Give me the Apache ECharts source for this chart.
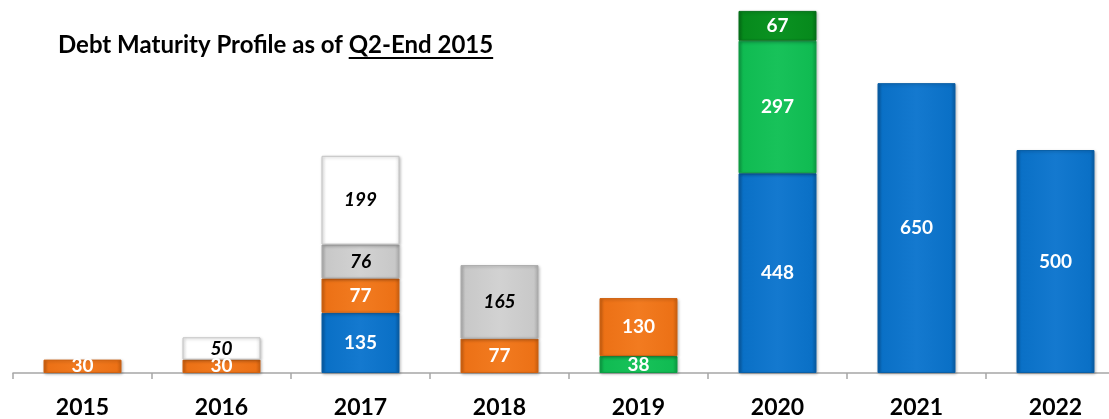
<!DOCTYPE html>
<html>
<head>
<meta charset="utf-8">
<script src="https://cdn.jsdelivr.net/npm/echarts@6/dist/echarts.min.js"></script>
<style>
  html, body { margin: 0; padding: 0; background: #fff; }
  #main { width: 1109px; height: 419px; }
</style>
</head>
<body>
<div id="main"></div>
<script>
// 到期年份
var years = ['2015', '2016', '2017', '2018', '2019', '2020', '2021', '2022'];

// 各段金额（自下而上堆叠）
var blueVals      = [null, null, 135, null, null, 448, 650, 500];
var greenVals     = [null, null, null, null, 38, 297, null, null];
var orangeVals    = [30, 30, 77, 77, 130, null, null, null];
var grayVals      = [null, null, 76, 165, null, null, null, null];
var whiteVals     = [null, 50, 199, null, null, null, null, null];
var darkGreenVals = [null, null, null, null, null, 67, null, null];

var FONT = 'Lato, "Noto Sans", sans-serif';

// 带一点立体感的填充
function fill(light, base, dark) {
  return new echarts.graphic.LinearGradient(0, 0, 1, 0, [
    { offset: 0, color: dark },
    { offset: 0.06, color: base },
    { offset: 0.5, color: light },
    { offset: 0.94, color: base },
    { offset: 1, color: dark }
  ]);
}

function makeSeries(name, data, colors, border, textColor, italic) {
  return {
    name: name,
    type: 'bar',
    stack: 'debt',
    barWidth: 78,
    data: data,
    itemStyle: {
      color: fill(colors[0], colors[1], colors[2]),
      borderColor: border,
      borderWidth: 1,
      shadowColor: 'rgba(0,0,0,0.25)',
      shadowBlur: 3,
      shadowOffsetX: 1,
      shadowOffsetY: 1
    },
    label: {
      show: true,
      position: 'inside',
      color: textColor,
      fontFamily: FONT,
      fontWeight: 'bold',
      fontStyle: italic ? 'italic' : 'normal',
      fontSize: 19
    },
    emphasis: { disabled: true }
  };
}

var chart = echarts.init(document.getElementById('main'));

// 标题下划线的位置用 canvas 量一下
var TITLE_FONT = 'bold 24px ' + FONT;
var ctx = document.createElement('canvas').getContext('2d');
ctx.font = TITLE_FONT;
var titleA = 'Debt Maturity Profile as of ';
var titleB = 'Q2-End 2015';
var wA = ctx.measureText(titleA).width;
var wB = ctx.measureText(titleB).width;
var titleX = 58, titleY = 33;

var option = {
  animation: false,
  grid: {
    left: 13,
    top: 10,
    width: 1112,
    height: 363,
    outerBoundsMode: 'none',
    containLabel: false
  },
  xAxis: {
    type: 'category',
    data: years,
    axisLine: { lineStyle: { color: '#a6a6a6', width: 1.5 } },
    axisTick: { show: true, length: 6, lineStyle: { color: '#a6a6a6', width: 1.5 } },
    axisLabel: {
      color: '#000',
      fontFamily: FONT,
      fontWeight: 'bold',
      fontSize: 23,
      margin: 23
    }
  },
  yAxis: {
    type: 'value',
    min: 0,
    max: 814,
    show: false,
    splitLine: { show: false }
  },
  series: [
    makeSeries('blue', blueVals, ['#1479cf', '#0a70c6', '#08599e'], '#0a5fa6', '#fff', false),
    makeSeries('green', greenVals, ['#18c25a', '#10bb52', '#0c9a42'], '#0e9e45', '#fff', false),
    makeSeries('orange', orangeVals, ['#f27b20', '#ec7116', '#c95f10'], '#cf6212', '#fff', false),
    makeSeries('gray', grayVals, ['#d2d2d2', '#c8c8c8', '#ababab'], '#adadad', '#000', true),
    makeSeries('white', whiteVals, ['#ffffff', '#ffffff', '#ededed'], '#c4c4c4', '#000', true),
    makeSeries('darkGreen', darkGreenVals, ['#0b9222', '#068a1c', '#056f16'], '#05701a', '#fff', false)
  ],
  graphic: [
    {
      type: 'text',
      left: titleX,
      top: titleY,
      style: {
        text: titleA + titleB,
        font: TITLE_FONT,
        fill: '#000'
      }
    },
    {
      type: 'line',
      shape: { x1: titleX + wA, y1: titleY + 25, x2: titleX + wA + wB, y2: titleY + 25 },
      style: { stroke: '#000', lineWidth: 2 }
    }
  ]
};

chart.setOption(option);
</script>
</body>
</html>
